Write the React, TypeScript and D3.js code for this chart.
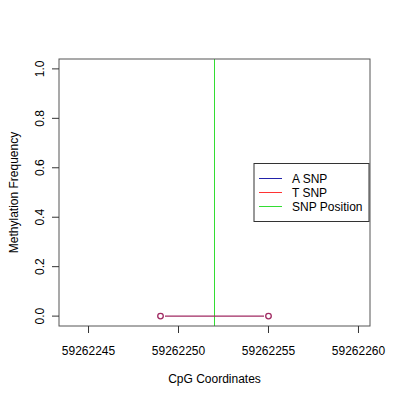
import React from 'react';
import * as d3 from 'd3';

// CpG positions and methylation values
const positions = [59262249, 59262255];
const aSnp = [0, 0];
const tSnp = [0, 0];
const snpPosition = 59262252;

const xTicks = [59262245, 59262250, 59262255, 59262260];
const yTicks = [0, 0.2, 0.4, 0.6, 0.8, 1.0];
const xLimits = [59262244, 59262260];
const yLimits = [0, 1];

const legendItems = [
  { label: 'A SNP', color: '#2222aa' },
  { label: 'T SNP', color: '#ff3333' },
  { label: 'SNP Position', color: '#33dd33' },
];

const font = '"Liberation Sans", Arial, Helvetica, sans-serif';

const App: React.FC = () => {
  const width = 400;
  const height = 400;
  const plot = { left: 59, right: 370, top: 59, bottom: 326 };

  // R style 4% extension of the axis ranges
  const xPad = (xLimits[1] - xLimits[0]) * 0.04;
  const yPad = (yLimits[1] - yLimits[0]) * 0.04;
  const x = d3.scaleLinear()
    .domain([xLimits[0] - xPad, xLimits[1] + xPad])
    .range([plot.left, plot.right]);
  const y = d3.scaleLinear()
    .domain([yLimits[0] - yPad, yLimits[1] + yPad])
    .range([plot.bottom, plot.top]);

  const pointColor = '#a02a62';
  const r = 2.8;
  const gap = 4.5;

  const segments = positions.slice(1).map((p, i) => {
    const x1 = x(positions[i]);
    const y1 = y((aSnp[i] + tSnp[i]) / 2);
    const x2 = x(p);
    const y2 = y((aSnp[i + 1] + tSnp[i + 1]) / 2);
    const len = Math.hypot(x2 - x1, y2 - y1);
    const ux = (x2 - x1) / len;
    const uy = (y2 - y1) / len;
    return { x1: x1 + ux * gap, y1: y1 + uy * gap, x2: x2 - ux * gap, y2: y2 - uy * gap };
  });

  const legend = { x: 254, y: 163.5, w: 115, h: 58, rowY: [178.5, 192.5, 206.5] };

  return (
    <svg width={width} height={height} style={{ position: 'absolute', left: 0, top: 0, background: '#fff' }}
      fontFamily={font} fontSize={12}>
      {/* SNP position line */}
      <line x1={x(snpPosition)} x2={x(snpPosition)} y1={plot.top} y2={plot.bottom}
        stroke="#33dd33" strokeWidth={1} />

      {/* data segments */}
      {segments.map((s, i) => (
        <line key={i} x1={s.x1} y1={s.y1} x2={s.x2} y2={s.y2} stroke={pointColor} strokeWidth={1.2} />
      ))}
      {positions.map((p, i) => (
        <circle key={i} cx={x(p)} cy={y(tSnp[i])} r={r} fill="none" stroke={pointColor} strokeWidth={1.3} />
      ))}

      {/* plot box */}
      <rect x={plot.left} y={plot.top} width={plot.right - plot.left} height={plot.bottom - plot.top}
        fill="none" stroke="#555" strokeWidth={1} />

      {/* x axis */}
      {xTicks.map(t => (
        <g key={t}>
          <line x1={x(t)} x2={x(t)} y1={plot.bottom} y2={plot.bottom + 7} stroke="#333" />
          <text x={x(t)} y={355} textAnchor="middle" fill="#000">{t}</text>
        </g>
      ))}
      <text x={(plot.left + plot.right) / 2} y={383} textAnchor="middle" fill="#000">CpG Coordinates</text>

      {/* y axis */}
      {yTicks.map(t => (
        <g key={t}>
          <line x1={plot.left - 7} x2={plot.left} y1={y(t)} y2={y(t)} stroke="#333" />
          <text transform={`translate(44,${y(t)}) rotate(-90)`} textAnchor="middle" fill="#000">
            {d3.format('.1f')(t)}
          </text>
        </g>
      ))}
      <text transform={`translate(18,${(plot.top + plot.bottom) / 2}) rotate(-90)`} textAnchor="middle" fill="#000">
        Methylation Frequency
      </text>

      {/* legend */}
      <rect x={legend.x} y={legend.y} width={legend.w} height={legend.h} fill="#fff" stroke="#333" />
      {legendItems.map((d, i) => (
        <g key={d.label}>
          <line x1={259} x2={282} y1={legend.rowY[i]} y2={legend.rowY[i]} stroke={d.color} strokeWidth={1} />
          <text x={292} y={legend.rowY[i] + 4.3} fill="#000">{d.label}</text>
        </g>
      ))}
    </svg>
  );
};

export default App;
